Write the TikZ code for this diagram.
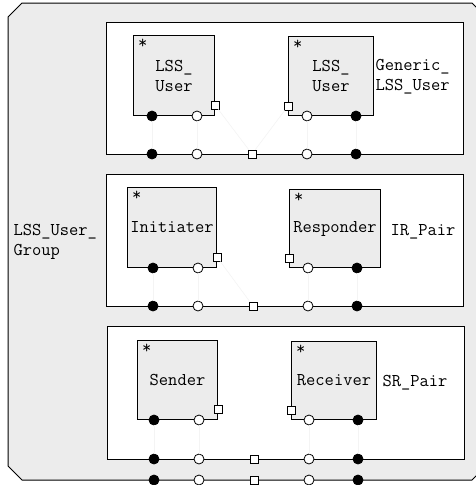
\documentclass[tikz,border=0pt]{standalone}
\usepackage{tikz}
\usetikzlibrary{positioning, calc}

\begin{document}
\begin{tikzpicture}[x=1pt, y=-1pt, align=center,
    font=\ttfamily\fontsize{18}{20}\selectfont,
    group/.style={draw, line width=1pt, fill=white, anchor=north west, inner sep=0pt},
    part/.style={draw, line width=1pt, fill=gray!15, anchor=north west, inner sep=0pt},
    fullport/.style={circle, draw, line width=0.8pt, fill=black, inner sep=0pt, minimum size=10},
    openport/.style={circle, draw, line width=0.8pt, fill=white, inner sep=0pt, minimum size=10},
    sqport/.style={rectangle, draw, line width=0.8pt, fill=white, inner sep=0pt, minimum size=8},
    wire/.style={draw=gray!9, line width=0.6pt}]
    \useasboundingbox (0,0) rectangle (476,485);
    \clip (0,0) rectangle (476,485);

    % Draw the outer group
    \draw[line width=1pt, fill=gray!15] (8,17) -- (22,3) -- (472,3) -- (486,17) -- (486,466) -- (472,480) -- (22,480) -- (8,466) -- cycle;
    \node[anchor=west, align=left] (all-label) at (10,242) {LSS\_User\_\\Group};

    % Draw the three inner groups
    \node[group, minimum width=357, minimum height=132] (gen) at (106,22) {};
    \node[group, minimum width=357, minimum height=132] (ir) at (106,174) {};
    \node[group, minimum width=357, minimum height=133] (sr) at (107,326) {};
    \node[anchor=west, align=left] (gen-label) at (372,77) {Generic\_\\LSS\_User};
    \node[anchor=west] (ir-label) at (387,232) {IR\_Pair};
    \node[anchor=west] (sr-label) at (379,383) {SR\_Pair};

    % Draw the parts
    \node[part, minimum width=81, minimum height=80] (genA) at (133,35) {LSS\_\\User};
    \node[part, minimum width=85, minimum height=79] (genB) at (288,36) {LSS\_\\User};
    \node[part, minimum width=89, minimum height=80] (irA) at (127,187) {Initiater};
    \node[part, minimum width=91, minimum height=78] (irB) at (289,189) {Responder};
    \node[part, minimum width=80, minimum height=79] (srA) at (137,340) {Sender};
    \node[part, minimum width=85, minimum height=78] (srB) at (291,341) {Receiver};
    \foreach \p in {genA, genB, irA, irB, srA, srB}
        \node[anchor=north west, inner xsep=5pt, inner ysep=4pt] (\p-star) at (\p.north west) {*};

    % Draw the ports on the group borders
    \foreach \g/\y/\d in {gen/154/0, ir/306/1, sr/459/2, all/480/2}
        \foreach \x/\s [count=\i] in {152/fullport, 197/openport, 252/sqport, 307/openport, 356/fullport}
            \node[\s] (\g-\i) at (\x+\d,\y) {};

    % Draw the ports on the parts
    \foreach \g in {gen, ir, sr} {
        \node[fullport] (\g A-1) at (\g A.south -| \g-1) {};
        \node[openport] (\g A-2) at (\g A.south -| \g-2) {};
        \node[sqport] (\g A-3) at ($(\g A.south east)+(0,-11)$) {};
        \node[sqport] (\g B-3) at ($(\g B.south west)+(0,-10)$) {};
        \node[openport] (\g B-4) at (\g B.south -| \g-4) {};
        \node[fullport] (\g B-5) at (\g B.south -| \g-5) {};
        % Draw the wires
        \foreach \i in {1,2}
            \draw[wire] (\g A-\i) -- (\g-\i);
        \foreach \i in {4,5}
            \draw[wire] (\g B-\i) -- (\g-\i);
    }
    \draw[wire] (genA-3) -- (gen-3);
    \draw[wire] (genB-3) -- (gen-3);
    \draw[wire] (irA-3) -- (ir-3);
\end{tikzpicture}
\end{document}
